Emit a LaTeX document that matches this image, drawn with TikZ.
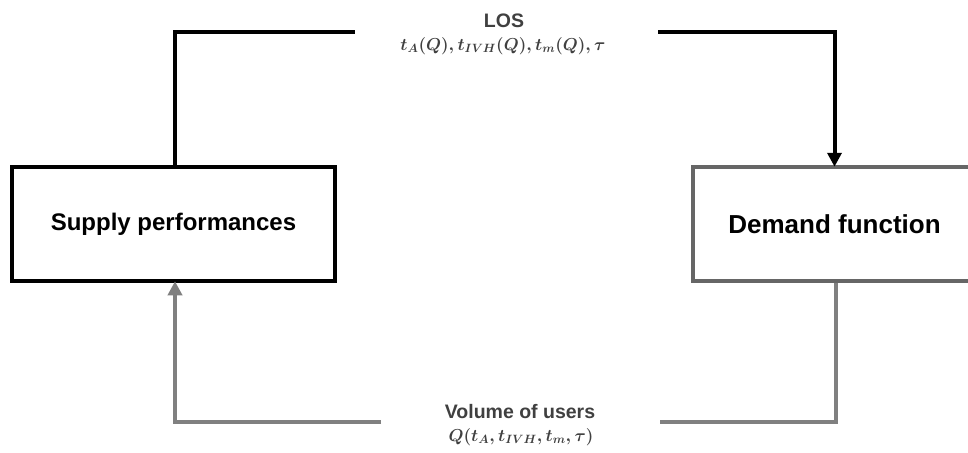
\documentclass[tikz,border=0pt]{standalone}
\usepackage{amsmath}
\usepackage{fontspec}
\setmainfont{Liberation Sans}
\usetikzlibrary{arrows.meta}
\definecolor{linegray}{HTML}{808080}
\definecolor{boxgray}{HTML}{666666}
\definecolor{labgray}{HTML}{404040}
\newcommand{\losmath}{{\boldmath$t_A(Q),t_{IVH}(Q),t_m(Q),\tau$}}
\newcommand{\volmath}{{\boldmath$Q(t_A,t_{IVH},t_m,\tau)$}}
\tikzset{
  boxbase/.style={line width=3.5pt, fill=white, minimum height=114pt, inner sep=0pt},
  blackbox/.style={boxbase, draw=black, font=\fontsize{24}{27}\selectfont\bfseries},
  graybox/.style={boxbase, draw=boxgray, font=\fontsize{26}{29}\selectfont\bfseries},
  blackline/.style={draw=black, line width=4pt},
  grayline/.style={draw=linegray, line width=4pt},
  lab/.style={text=labgray, font=\fontsize{19.5}{22}\selectfont\bfseries, inner sep=0pt},
  mlab/.style={text=labgray, font=\fontsize{17.5}{20}\selectfont, inner sep=0pt},
}
\begin{document}
\begin{tikzpicture}[x=1pt,y=-1pt]
\useasboundingbox (0,0) rectangle (968,452);
\clip (0,0) rectangle (968,452);
\fill[white] (0,0) rectangle (968,452);
\node[blackbox, minimum width=323pt] (sup) at (173.5,224) {\raisebox{-3pt}{Supply performances}};
\node[graybox, minimum width=283pt] (dem) at (834.5,224) {\raisebox{-2pt}{Demand function}};
\node[lab] (los) at (504,21) {LOS};
\node[mlab] (losm) at (503,46) {\losmath};
\node[lab] (vol) at (520,412) {Volume of users};
\node[mlab] (volm) at (521,437) {\volmath};
\coordinate (tl) at (355,32);
\coordinate (tr) at (658,32);
\coordinate (bl) at (381,422);
\coordinate (br) at (660,422);
\draw[blackline] ([xshift=1.5pt]sup.north) |- (tl);
\draw[blackline, -{Triangle[width=14pt,length=14pt]}] (tr) -| ([yshift=-1.5pt]dem.north);
\draw[grayline] ([xshift=1.5pt]dem.south) |- (br);
\draw[grayline, -{Triangle[width=14pt,length=14pt]}] (bl) -| ([xshift=1.5pt,yshift=1.5pt]sup.south);
\end{tikzpicture}
\end{document}
